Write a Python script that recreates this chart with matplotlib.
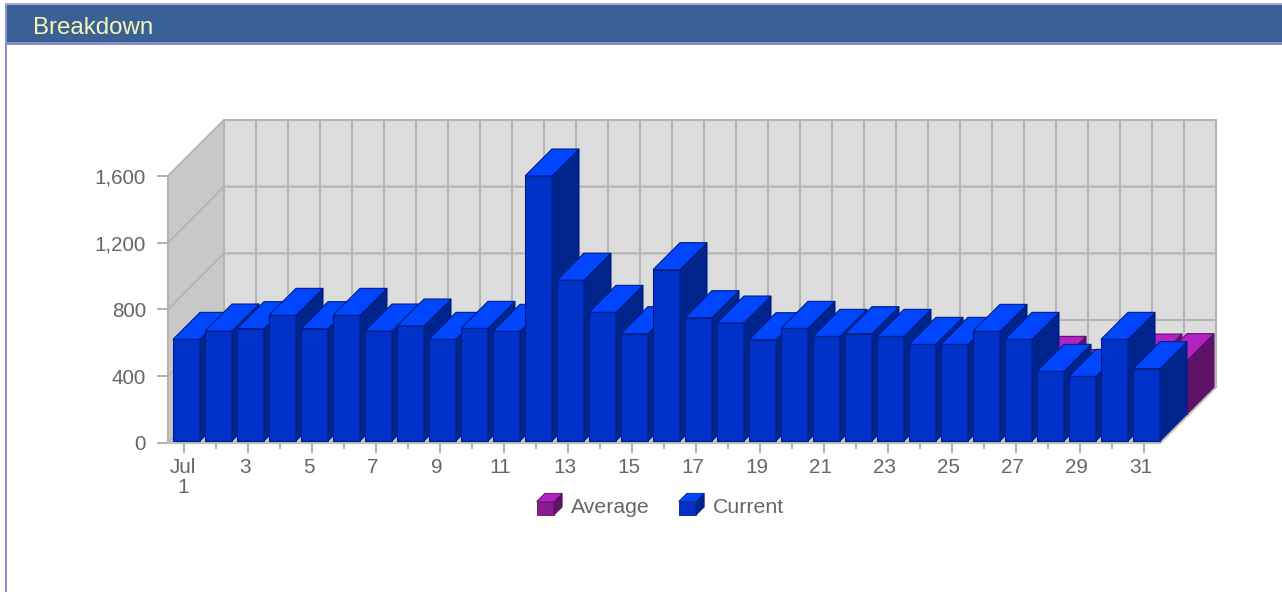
import matplotlib
matplotlib.use("Agg")
import matplotlib.pyplot as plt
from matplotlib.patches import Polygon, Rectangle
from matplotlib.legend_handler import HandlerBase
from matplotlib.transforms import ScaledTranslation

plt.rcParams['font.family'] = ['Liberation Sans', 'DejaVu Sans']

W, H = 1282, 592
days = list(range(1, 32))
current = [620, 670, 684, 764, 684, 764, 670, 700, 620, 686, 668, 1600, 975, 782, 654, 1038,
           750, 718, 618, 686, 638, 654, 638, 590, 590, 668, 620, 428, 398, 620, 444]
average = [330, 320, 340, 350, 330, 340, 320, 330, 340, 320, 330, 350, 340, 330, 320, 340,
           330, 320, 330, 340, 320, 330, 320, 310, 320, 330, 314, 235, 300, 328, 330]
y_ticks = [0, 400, 800, 1200, 1600]
y_labels = ['0', '400', '800', '1,200', '1,600']
x_tick_labels = {1: 'Jul\n1', 3: '3', 5: '5', 7: '7', 9: '9', 11: '11', 13: '13', 15: '15', 17: '17',
                 19: '19', 21: '21', 23: '23', 25: '25', 27: '27', 29: '29', 31: '31'}

BLUE = dict(front='#0031C9', top='#0046FF', side='#00248C', edge='#001F85')
PURP = dict(front='#8A1A8E', top='#B522C4', side='#5E1268', edge='#5A1066')
GRID = '#B4B4B4'
TXT = '#666666'

fig = plt.figure(figsize=(W / 100, H / 100), dpi=100, facecolor='white')

# frame and header
bg = fig.add_axes([0, 0, 1, 1], zorder=0)
bg.set_xlim(0, W); bg.set_ylim(H, 0); bg.axis('off')
bg.add_patch(Rectangle((4.5, 3), 2.5, H, fc='#9090CC', ec='none'))
bg.add_patch(Rectangle((4.5, 3), W, 2, fc='#A8A4D8', ec='none'))
bg.add_patch(Rectangle((7, 5), W, 37, fc='#3A6195', ec='none'))
bg.add_patch(Rectangle((5, 42), W, 2.5, fc='#8C8CC8', ec='none'))
bg.text(33, 27.5, 'Breakdown', fontsize=17.3, color='#F7F7B4', va='center', ha='left')

# px geometry of the plot frame
L, R, Y0, Y1600 = 168, 1160, 442.7, 176
ax = fig.add_axes([L / W, 1 - Y0 / H, (R - L) / W, (Y0 - Y1600) / H], zorder=1)
ax.set_xlim(0.5, 31.5)
ax.set_ylim(0, 1600)
ax.patch.set_alpha(0)
for s in ax.spines.values():
    s.set_visible(False)

px_x = 1 / 32.0                       # slot units per px
px_y = 1600 / (Y0 - Y1600)            # value units per px
DX, DY = 56 * px_x, 56 * px_y         # wall depth
bx, by = 27 * px_x, 27 * px_y         # bar depth
gap = 5 * px_x
x0, x1 = 0.5, 31.5
TOP = max(y_ticks)
lw = 1.45


def poly(pts, fc='none', ec='none', z=1, l=0.0):
    ax.add_patch(Polygon(pts, closed=True, fc=fc, ec=ec, lw=l, zorder=z, clip_on=False, joinstyle='miter'))


def line(xs, ys, z=2, l=lw, c=GRID):
    ax.plot(xs, ys, color=c, lw=l, zorder=z, clip_on=False, solid_capstyle='projecting')


# walls and floor
poly([(x0 + DX, DY), (x1 + DX, DY), (x1 + DX, TOP + DY), (x0 + DX, TOP + DY)], fc='#DCDCDC')
poly([(x0, 0), (x0 + DX, DY), (x0 + DX, TOP + DY), (x0, TOP)], fc='#C8C8C8')
poly([(x0, 0), (x1, 0), (x1 + DX, DY), (x0 + DX, DY)], fc='#C8C8C8')
for v in y_ticks:
    line([x0, x0 + DX, x1 + DX], [v, v + DY, v + DY])
for i in range(32):
    line([x0 + DX + i] * 2, [DY, TOP + DY])
line([x0, x0], [0, TOP])
line([x0, x1, x1 + DX], [0, 0, DY], z=2, l=2.1, c='#C0C0C0')


def box(day, v, shift, c, z):
    a = day - 0.5 + gap + shift * bx
    b = day + 0.5 + shift * bx
    lo = 10 + shift * by
    hi = v + shift * by
    poly([(a, lo), (b, lo), (b, hi), (a, hi)], fc=c['front'], ec=c['edge'], z=z, l=0.8)
    poly([(b, lo), (b + bx, lo + by), (b + bx, hi + by), (b, hi)], fc=c['side'], ec=c['edge'], z=z, l=0.8)
    poly([(a, hi), (b, hi), (b + bx, hi + by), (a + bx, hi + by)], fc=c['top'], ec=c['edge'], z=z, l=0.8)


for d, v in zip(days, average):
    box(d, v, 1, PURP, 3 + d * 0.001)
for d, v in zip(days, current):
    box(d, v, 0, BLUE, 4 + d * 0.001)

# axes ticks
ax.set_yticks(y_ticks, y_labels)
ax.tick_params(axis='y', length=7.9, width=1.45, color=GRID, labelcolor=TXT, labelsize=14.9, pad=8)
ax.set_xticks(list(x_tick_labels), list(x_tick_labels.values()))
ax.set_xticks([d for d in days if d % 2 == 0], minor=True)
ax.tick_params(axis='x', which='major', length=7.5, width=1.45, color=GRID, labelcolor=TXT, labelsize=14.9, pad=3.5)
ax.tick_params(axis='x', which='minor', length=4, width=1.45, color=GRID)
for lab in ax.get_xticklabels():
    lab.set_linespacing(1.1)
    dx = -1 if '\n' in lab.get_text() else -3.5
    lab.set_transform(lab.get_transform() + ScaledTranslation(dx / 100, 0, fig.dpi_scale_trans))


class Cube:
    def __init__(self, c):
        self.c = c


class CubeHandler(HandlerBase):
    def create_artists(self, legend, orig, xd, yd, width, height, fontsize, trans):
        c = orig.c
        d = width * 8 / 25
        w, h = width - d, height - d
        y = -height * 0.12
        kw = dict(ec=c['edge'], lw=0.6, transform=trans)
        return [Polygon([(0, y), (w, y), (w, y + h), (0, y + h)], fc=c['front'], **kw),
                Polygon([(w, y), (w + d, y + d), (w + d, y + h + d), (w, y + h)], fc=c['side'], **kw),
                Polygon([(0, y + h), (w, y + h), (w + d, y + h + d), (d, y + h + d)], fc=c['top'], **kw)]


a_h, c_h = Cube(PURP), Cube(BLUE)
leg = ax.legend([a_h, c_h], ['Average', 'Current'],
                handler_map={Cube: CubeHandler()}, ncol=2, frameon=False, fontsize=15.3,
                labelcolor=TXT, handlelength=1.2, handleheight=1.2, handletextpad=0.42,
                columnspacing=1.36, borderpad=0, borderaxespad=0, loc='center',
                bbox_to_anchor=(660.5 / W, 1 - 505.5 / H), bbox_transform=fig.transFigure)
leg.set_zorder(10)

fig.savefig('out.png', dpi=100, facecolor='white')
